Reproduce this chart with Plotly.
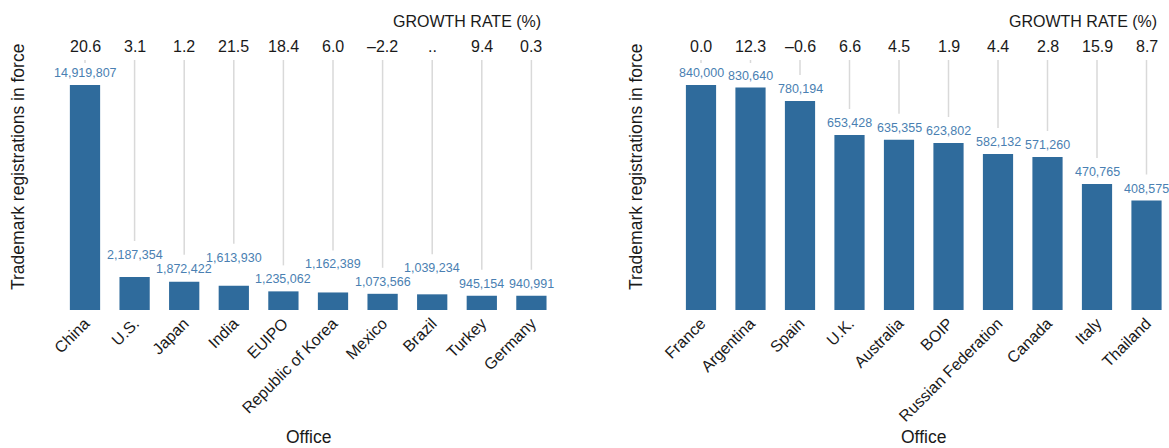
import plotly.graph_objects as go

# ---------------- data ----------------
left_offices = ["China", "U.S.", "Japan", "India", "EUIPO", "Republic of Korea",
                "Mexico", "Brazil", "Turkey", "Germany"]
left_values = [14919807, 2187354, 1872422, 1613930, 1235062, 1162389,
               1073566, 1039234, 945154, 940991]
left_growth = ["20.6", "3.1", "1.2", "21.5", "18.4", "6.0", "\u20132.2", "..", "9.4", "0.3"]

right_offices = ["France", "Argentina", "Spain", "U.K.", "Australia", "BOIP",
                 "Russian Federation", "Canada", "Italy", "Thailand"]
right_values = [840000, 830640, 780194, 653428, 635355, 623802,
                582132, 571260, 470765, 408575]
right_growth = ["0.0", "12.3", "\u20130.6", "6.6", "4.5", "1.9", "4.4", "2.8", "15.9", "8.7"]

# label lift above bar top (px), staggered to avoid overlaps
left_lift = [12, 22, 13, 28, 12, 28, 12, 26, 12, 12]
right_lift = [12] * 10

# ---------------- style ----------------
W, H = 1169, 448
FONT = "Liberation Sans, Arial, sans-serif"
BAR = "#2f6b9c"
LBL = "#4a7fb2"
GRID = "#d9d9d9"
TXT = "#1a1a1a"

PLOT_TOP, PLOT_BASE, BAR_TOP = 60, 310, 85


def ypap(p):
    return 1 - p / H


def xpap(p):
    return p / W


fig = go.Figure()
annotations = []
shapes = []

panels = [
    dict(offices=left_offices, values=left_values, growth=left_growth, lift=left_lift,
         xa="x", ya="y", x0=60.2, step=49.6, title_x=18, office_x=308),
    dict(offices=right_offices, values=right_values, growth=right_growth, lift=right_lift,
         xa="x2", ya="y2", x0=676.25, step=49.5, title_x=636, office_x=923),
]

for i, p in enumerate(panels):
    R = max(p["values"]) * (PLOT_BASE - PLOT_TOP) / (PLOT_BASE - BAR_TOP)
    unit = R / (PLOT_BASE - PLOT_TOP)  # data units per pixel
    fig.add_trace(go.Bar(
        x=p["offices"], y=p["values"], xaxis=p["xa"], yaxis=p["ya"],
        marker=dict(color=BAR, line=dict(width=0)), width=0.61,
        hoverinfo="x+y", showlegend=False,
    ))
    x_end = min(W, p["x0"] + p["step"] * 10)
    ncat = (x_end - p["x0"]) / p["step"]
    sfx = "" if i == 0 else "2"
    fig.update_layout(**{
        "xaxis" + sfx: dict(domain=[xpap(p["x0"]), xpap(x_end)], range=[-0.5, ncat - 0.5],
                            anchor="y" + sfx, tickangle=-45, showgrid=False, zeroline=False,
                            showline=False, ticks="", automargin=False,
                            tickfont=dict(family=FONT, size=16, color=TXT)),
        "yaxis" + sfx: dict(domain=[ypap(PLOT_BASE), ypap(PLOT_TOP)], range=[0, R],
                            anchor="x" + sfx, visible=False, automargin=False),
    })
    for cat, v, g, lift in zip(p["offices"], p["values"], p["growth"], p["lift"]):
        annotations.append(dict(
            x=cat, y=v, xref=p["xa"], yref=p["ya"], text=f"{v:,}", showarrow=False,
            yshift=lift, yanchor="middle", font=dict(family=FONT, size=12.5, color=LBL)))
        annotations.append(dict(
            x=cat, y=ypap(46.7), xref=p["xa"], yref="paper", text=g, showarrow=False,
            yanchor="middle", font=dict(family=FONT, size=16, color=TXT)))
        bottom = min(v + (lift + 14) * unit, R - 3 * unit)
        shapes.append(dict(type="line", xref=p["xa"], yref=p["ya"], x0=cat, x1=cat,
                           y0=R, y1=bottom, line=dict(color=GRID, width=1.5), layer="below"))
    # growth rate header, right-aligned with last growth label
    annotations.append(dict(
        x=p["offices"][-1], y=ypap(21), xref=p["xa"], yref="paper", text="GROWTH RATE (%)",
        showarrow=False, xanchor="right", xshift=12, yanchor="middle",
        font=dict(family=FONT, size=16, color=TXT)))
    # axis titles
    annotations.append(dict(
        x=xpap(p["title_x"]), y=ypap(167), xref="paper", yref="paper",
        text="Trademark registrations in force", textangle=-90, showarrow=False,
        xanchor="center", yanchor="middle", font=dict(family=FONT, size=17.5, color=TXT)))
    annotations.append(dict(
        x=xpap(p["office_x"]), y=ypap(437), xref="paper", yref="paper",
        text="Office", showarrow=False,
        xanchor="center", yanchor="middle", font=dict(family=FONT, size=17.5, color=TXT)))

fig.update_layout(
    width=W, height=H, margin=dict(l=0, r=0, t=0, b=0),
    paper_bgcolor="white", plot_bgcolor="white", template="none",
    bargap=0.39, annotations=annotations, shapes=shapes,
    font=dict(family=FONT, color=TXT),
)

fig.write_html("out.html", config={"displayModeBar": False},
               post_script="document.body.style.margin='0';document.body.style.overflow='hidden';")
